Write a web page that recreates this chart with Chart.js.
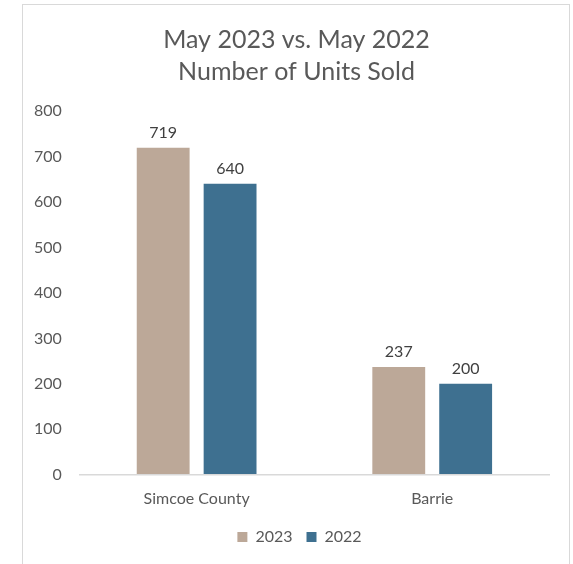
<!DOCTYPE html>
<html>
<head>
<meta charset="utf-8">
<script src="https://cdn.jsdelivr.net/npm/chart.js@4"></script>
<style>
  html, body { margin: 0; padding: 0; background: #fff; overflow: hidden; }
  #marco { position: absolute; left: 22px; top: 4px; width: 548px; height: 600px; border: 1px solid #d9d9d9; box-sizing: border-box; }
  #caixa { position: absolute; left: 0; top: 0; width: 573px; height: 564px; }
</style>
</head>
<body>
<div id="marco"></div>
<div id="caixa"><canvas id="grafico" width="573" height="564"></canvas></div>
<script>
// dados do gráfico
const categorias = ['Simcoe County', 'Barrie'];
const vendas2023 = [719, 237];
const vendas2022 = [640, 200];
const titulo = ['May 2023 vs. May 2022', 'Number of Units Sold'];

const corTexto = '#595959';
const fonte = 'Lato';

// rótulos de valor em cima das barras
const rotulosValor = {
    id: 'rotulosValor',
    afterDatasetsDraw(chart) {
        const ctx = chart.ctx;
        ctx.save();
        ctx.font = '16px ' + fonte;
        ctx.fillStyle = '#404040';
        ctx.textAlign = 'center';
        ctx.textBaseline = 'middle';
        chart.data.datasets.forEach((ds, i) => {
            chart.getDatasetMeta(i).data.forEach((barra, j) => {
                ctx.fillText(ds.data[j], barra.x, barra.y - 15);
            });
        });
        ctx.restore();
    }
};

// empurra título e legenda um pouco para a direita, como no original
const ajusteCentro = {
    id: 'ajusteCentro',
    afterLayout(chart) {
        chart.legend.left += 16;
        chart.legend.right += 16;
        chart.titleBlock.left += 13;
        chart.titleBlock.right += 13;
    }
};

new Chart(document.getElementById('grafico'), {
    type: 'bar',
    data: {
        labels: categorias,
        datasets: [
            { label: '2023', data: vendas2023, backgroundColor: '#bca898' },
            { label: '2022', data: vendas2022, backgroundColor: '#3e7090' }
        ]
    },
    options: {
        responsive: false,
        animation: false,
        devicePixelRatio: 1,
        categoryPercentage: 0.568,
        barPercentage: 0.79,
        layout: { padding: { left: 17, right: 23, top: 24, bottom: 9 } },
        plugins: {
            title: {
                display: true,
                text: titulo,
                color: corTexto,
                font: { family: fonte, size: 25, weight: 'normal', lineHeight: 1.28 },
                padding: { top: 0, bottom: 23 }
            },
            legend: {
                position: 'bottom',
                labels: {
                    color: corTexto,
                    font: { family: fonte, size: 16 },
                    boxWidth: 10,
                    boxHeight: 10,
                    padding: 14
                }
            },
            tooltip: { enabled: false }
        },
        scales: {
            x: {
                grid: { display: false },
                border: { display: false },
                ticks: { color: corTexto, font: { family: fonte, size: 16 }, padding: 6 },
                afterFit(escala) { escala.height += 1; }
            },
            y: {
                min: 0,
                max: 800,
                border: { display: false },
                grid: {
                    drawTicks: false,
                    lineWidth: 1.5,
                    color: c => c.tick && c.tick.value === 0 ? '#d9d9d9' : 'transparent'
                },
                ticks: { stepSize: 100, color: corTexto, font: { family: fonte, size: 16 }, padding: 17 }
            }
        }
    },
    plugins: [rotulosValor, ajusteCentro]
});
</script>
</body>
</html>
